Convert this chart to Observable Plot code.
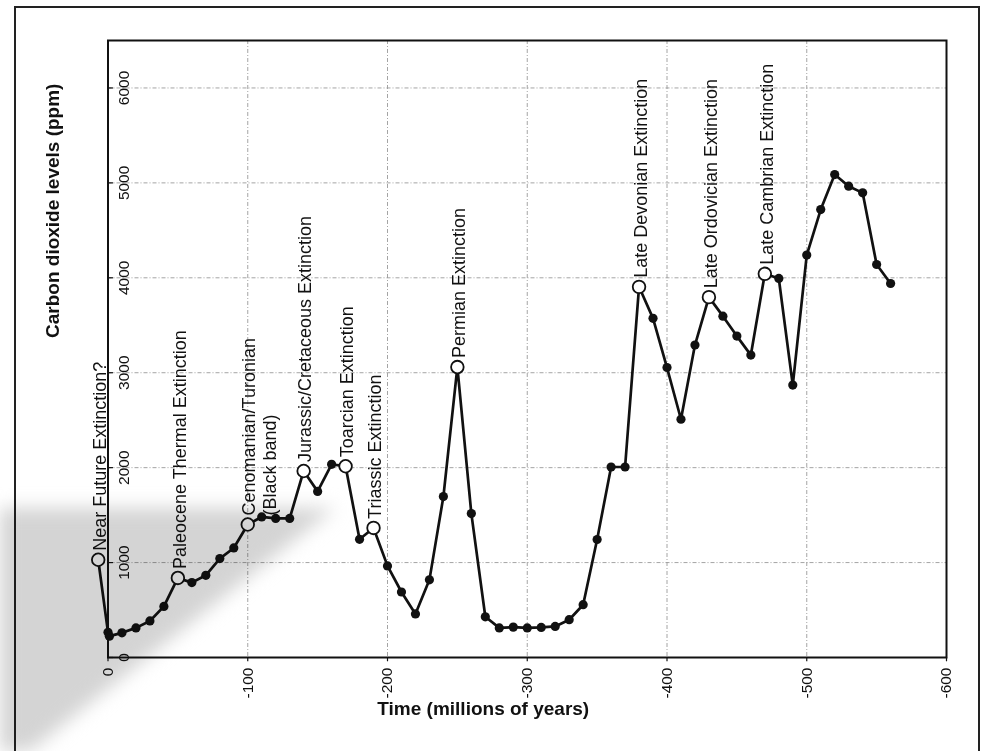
<!DOCTYPE html>
<html>
<head>
<meta charset="utf-8">
<script src="https://cdn.jsdelivr.net/npm/d3@7"></script>
<script src="https://cdn.jsdelivr.net/npm/@observablehq/plot@0.6"></script>
<style>
  html, body { margin: 0; padding: 0; background: #fff; }
  #wrap { position: relative; width: 984px; height: 751px; overflow: hidden; }
  #border { position: absolute; left: 14px; top: 6px; width: 962px; height: 800px;
            border: 2.5px solid #222; pointer-events: none; }
  #shade { position: absolute; left: 0; top: 0; width: 984px; height: 751px;
           pointer-events: none; mix-blend-mode: multiply; filter: blur(9px); }
  #shade div { position: absolute; left: 0; top: 0; width: 984px; height: 751px; background: #d4d4d4;
               clip-path: polygon(-30px 508px, 335px 508px, 0px 775px, -30px 775px); }
</style>
</head>
<body>
<div id="wrap">
  <div id="chart"></div>
  <div id="border"></div>
  <div id="shade"><div></div></div>
</div>
<script>
// Time (millions of years; negative = past, positive = future) and CO2 (ppm)
const times = [7, 0, -1, -10, -20, -30, -40, -50, -60, -70, -80, -90, -100, -110, -120, -130,
  -140, -150, -160, -170, -180, -190, -200, -210, -220, -230, -240, -250, -260, -270, -280,
  -290, -300, -310, -320, -330, -340, -350, -360, -370, -380, -390, -400, -410, -420, -430,
  -440, -450, -460, -470, -480, -490, -500, -510, -520, -530, -540, -550, -560];
const co2 = [1030, 265, 225, 260, 312, 385, 538, 838, 789, 866, 1042, 1154, 1401, 1481, 1465, 1465,
  1965, 1750, 2035, 2015, 1245, 1365, 965, 690, 459, 818, 1695, 3060, 1516, 429, 312,
  320, 312, 317, 327, 398, 556, 1243, 2007, 2007, 3905, 3573, 3055, 2510, 3292, 3796,
  3596, 3386, 3186, 4042, 3993, 2870, 4239, 4719, 5088, 4965, 4895, 4140, 3940];

// Extinction events (open circles)
const eventTimes = [7, -50, -140, -170, -190, -250, -380, -430, -470];
const eventNames = ["Near Future Extinction?", "Paleocene Thermal Extinction",
  "Jurassic/Cretaceous Extinction", "Toarcian Extinction", "Triassic Extinction",
  "Permian Extinction", "Late Devonian Extinction", "Late Ordovician Extinction",
  "Late Cambrian Extinction"];
const bandTime = [-100];
const bandName = ["Cenomanian/Turonian\n(Black band)"];

// Axis ticks
const xTicks = [0, -100, -200, -300, -400, -500, -600];
const xTickLabels = ["0", "-100", "-200", "-300", "-400", "-500", "-600"];
const yTicks = [0, 1000, 2000, 3000, 4000, 5000, 6000];
const yTickLabels = ["0", "1000", "2000", "3000", "4000", "5000", "6000"];
const xGrid = [-100, -200, -300, -400, -500];
const yGrid = [1000, 2000, 3000, 4000, 5000, 6000];

const series = times.map((t, i) => ({t, v: co2[i]}));
const valueAt = t => co2[times.indexOf(t)];
const openTimes = eventTimes.concat(bandTime);
const events = eventTimes.map((t, i) => ({t, v: valueAt(t), name: eventNames[i]}));
const band = bandTime.map((t, i) => ({t, v: valueAt(t), name: bandName[i]}));
const filled = series.filter(d => !openTimes.includes(d.t));
const opens = series.filter(d => openTimes.includes(d.t));

const gridStyle = {stroke: "#9a9a9a", strokeWidth: 0.9, strokeDasharray: "4,2,1,2"};

const chart = Plot.plot({
  width: 984,
  height: 751,
  marginLeft: 107.5,
  marginRight: 38,
  marginTop: 40,
  marginBottom: 94,
  x: {domain: [0, -600], axis: null},
  y: {domain: [0, 6500], axis: null},
  style: {fontFamily: "'Liberation Sans', Arial, Helvetica, sans-serif", background: "transparent", color: "#111"},
  marks: [
    Plot.ruleY(yGrid, {y: d => d, ...gridStyle}),
    Plot.ruleX(xGrid, {x: d => d, ...gridStyle}),
    Plot.frame({stroke: "#111", strokeWidth: 2}),
    Plot.ruleY(yTicks, {y: d => d, x1: 0, x2: -4, stroke: "#111", strokeWidth: 1.2}),
    Plot.ruleX(xTicks, {x: d => d, y1: 0, y2: -45, stroke: "#111", strokeWidth: 1.2}),
    Plot.text(yTicks, {x: 0, y: d => d, text: (d, i) => yTickLabels[i], rotate: -90,
      textAnchor: "middle", dx: 16, fontSize: 15.5}),
    Plot.text(xTicks, {x: d => d, y: 0, text: (d, i) => xTickLabels[i], rotate: -90,
      textAnchor: "end", dy: 10, fontSize: 15.5}),
    Plot.line(series, {x: "t", y: "v", stroke: "#111", strokeWidth: 2.7}),
    Plot.dot(filled, {x: "t", y: "v", r: 4.6, fill: "#111"}),
    Plot.dot(opens, {x: "t", y: "v", r: 6.3, fill: "white", stroke: "#111", strokeWidth: 1.8}),
    Plot.text(events, {x: "t", y: "v", text: "name", rotate: -90, textAnchor: "start",
      dx: 2, dy: -9, fontSize: 18}),
    Plot.text(band, {x: "t", y: "v", text: "name", rotate: -90, textAnchor: "start",
      dx: 11, dy: -9, fontSize: 18, lineHeight: 1.15}),
    Plot.text(["Carbon dioxide levels (ppm)"], {frameAnchor: "left", rotate: -90,
      dx: -55, dy: -11, fontSize: 19, fontWeight: "bold"}),
    Plot.text(["Time (millions of years)"], {frameAnchor: "bottom",
      dx: -44, dy: 57, fontSize: 19, fontWeight: "bold"})
  ]
});
document.getElementById("chart").appendChild(chart);
</script>
</body>
</html>
